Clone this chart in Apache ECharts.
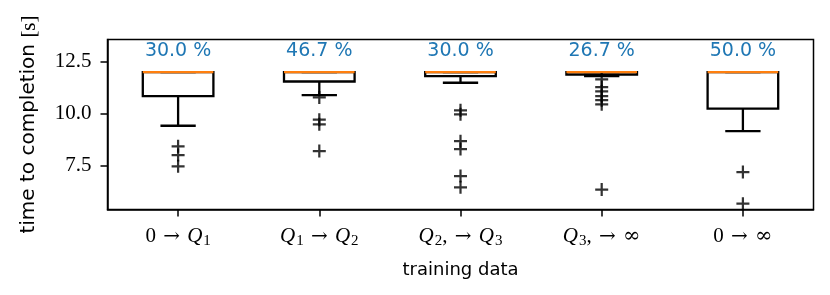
<!DOCTYPE html>
<html>
<head>
<meta charset="utf-8">
<script src="https://cdn.jsdelivr.net/npm/echarts@6/dist/echarts.min.js"></script>
<style>
html, body { margin: 0; padding: 0; background: #fff; }
#chart { width: 830px; height: 295px; }
</style>
</head>
<body>
<div id="chart"></div>
<script>
// ---- data ----
const categories = ['0 → Q₁', 'Q₁ → Q₂', 'Q₂, → Q₃', 'Q₃, → ∞', '0 → ∞'];
const whiskerLow  = [9.42, 10.89, 11.49, 11.81, 9.16];
const q1          = [10.85, 11.55, 11.81, 11.88, 10.24];
const median      = [12.0, 12.0, 12.0, 12.0, 12.0];
const q3          = [12.0, 12.0, 12.0, 12.0, 12.0];
const whiskerHigh = [12.0, 12.0, 12.0, 12.0, 12.0];
const outliers = [
  [8.43, 8.01, 7.47],
  [10.78, 9.71, 9.49, 8.20],
  [10.16, 9.97, 8.68, 8.30, 7.00, 6.46],
  [11.65, 11.28, 11.07, 10.85, 10.65, 10.45, 6.35],
  [7.19, 5.67]
];
const percentLabels = ['30.0 %', '46.7 %', '30.0 %', '26.7 %', '50.0 %'];
const percentLabelY = 13.0;
const yTicks = [7.5, 10.0, 12.5];
const yMin = 5.39, yMax = 13.57;

// ---- build series data ----
const boxData = categories.map((c, i) => [i, whiskerLow[i], q1[i], median[i], q3[i], whiskerHigh[i]]);
const outlierData = [];
outliers.forEach((arr, i) => arr.forEach(v => outlierData.push([i, v])));
const labelData = percentLabels.map((t, i) => [i, percentLabelY]);

const SUB = {'₀':'0','₁':'1','₂':'2','₃':'3','₄':'4'};
function richLabel(s) {
  let out = '', buf = '';
  const flush = () => { if (buf) { out += '{n|' + buf + '}'; buf = ''; } };
  for (const ch of s) {
    if (ch === 'Q') { flush(); out += '{q|Q}'; }
    else if (SUB[ch]) { flush(); out += '{s|' + SUB[ch] + '}'; }
    else if (ch === '→') { flush(); out += '{a|' + ch + '}'; }
    else if (ch === '∞') { flush(); out += '{m|' + ch + '}'; }
    else buf += ch;
  }
  flush();
  return out;
}

const chart = echarts.init(document.getElementById('chart'), null, { renderer: 'canvas' });
const serif = 'Liberation Serif';
const sans = 'DejaVu Sans';

const option = {
  backgroundColor: '#fff',
  animation: false,
  grid: {
    left: 107.5, right: 16.5, top: 39.5, bottom: 85.5,
    show: true, borderColor: '#000', borderWidth: 1.5, backgroundColor: 'transparent'
  },
  xAxis: {
    type: 'category',
    data: categories,
    boundaryGap: true,
    axisLine: { show: true, lineStyle: { color: '#000', width: 1.5 } },
    axisTick: { show: true, alignWithLabel: true, length: 7, lineStyle: { color: '#000', width: 1.5 } },
    splitLine: { show: false },
    axisLabel: {
      interval: 0,
      margin: 15,
      formatter: v => richLabel(v),
      rich: {
        n: { fontFamily: serif, fontSize: 21, color: '#000', lineHeight: 24 },
        a: { fontFamily: 'DejaVu Serif', fontSize: 20, color: '#000', lineHeight: 24, padding: [0, 2, 0, 2] },
        m: { fontFamily: 'DejaVu Serif', fontSize: 21, color: '#000', lineHeight: 24 },
        q: { fontFamily: serif, fontSize: 21, fontStyle: 'italic', color: '#000', lineHeight: 24 },
        s: { fontFamily: serif, fontSize: 15, color: '#000', lineHeight: 24, padding: [9, 0, 0, 1] }
      }
    },
    name: 'training data',
    nameLocation: 'middle',
    nameGap: 52,
    nameTextStyle: { fontFamily: sans, fontSize: 18, color: '#000' }
  },
  yAxis: {
    type: 'value',
    min: yMin, max: yMax,
    axisLine: { show: true, lineStyle: { color: '#000', width: 1.5 } },
    axisTick: { show: true, length: 7, customValues: yTicks, lineStyle: { color: '#000', width: 1.5 } },
    splitLine: { show: false },
    axisLabel: {
      customValues: yTicks,
      margin: 16,
      formatter: v => Number(v).toFixed(1),
      fontFamily: serif, fontSize: 21, color: '#000'
    },
    name: '{a|time to completion }{b|[s]}',
    nameLocation: 'middle',
    nameGap: 68,
    nameRotate: 90,
    nameTextStyle: {
      rich: {
        a: { fontFamily: sans, fontSize: 20, color: '#000' },
        b: { fontFamily: serif, fontSize: 21, color: '#000' }
      }
    }
  },
  series: [
    {
      type: 'custom',
      data: boxData,
      encode: { x: 0, y: [1, 2, 3, 4, 5] },
      clip: false,
      renderItem: function (params, api) {
        const i = api.value(0);
        const band = api.size([1, 0])[0];
        const bw = band * 0.5;
        const cw = bw * 0.5;
        const pLow = api.coord([i, api.value(1)]);
        const pQ1 = api.coord([i, api.value(2)]);
        const pMed = api.coord([i, api.value(3)]);
        const pQ3 = api.coord([i, api.value(4)]);
        const pHigh = api.coord([i, api.value(5)]);
        const x = pQ1[0];
        const blk = { stroke: '#000', lineWidth: 2.3, fill: 'none' };
        return {
          type: 'group',
          children: [
            { type: 'rect', shape: { x: x - bw / 2, y: pQ3[1], width: bw, height: pQ1[1] - pQ3[1] }, style: blk },
            { type: 'line', shape: { x1: x, y1: pQ1[1], x2: x, y2: pLow[1] }, style: blk },
            { type: 'line', shape: { x1: x - cw / 2, y1: pLow[1], x2: x + cw / 2, y2: pLow[1] }, style: blk },
            { type: 'line', shape: { x1: x, y1: pQ3[1], x2: x, y2: pHigh[1] }, style: blk },
            { type: 'line', shape: { x1: x - cw / 2, y1: pHigh[1], x2: x + cw / 2, y2: pHigh[1] }, style: blk },
            { type: 'line', shape: { x1: x - bw / 2, y1: pMed[1], x2: x + bw / 2, y2: pMed[1] }, style: { stroke: '#ff7f0e', lineWidth: 2.4 } }
          ]
        };
      },
      z: 3
    },
    {
      type: 'scatter',
      data: outlierData,
      symbol: 'path://M5.8,0H8.2V14H5.8Z M0,5.8H14V8.2H0Z',
      symbolSize: 13,
      itemStyle: { color: '#000' },
      z: 4
    },
    {
      type: 'custom',
      data: labelData,
      encode: { x: 0, y: 1 },
      clip: false,
      renderItem: function (params, api) {
        const i = api.value(0);
        const p = api.coord([i, api.value(1)]);
        return {
          type: 'text',
          style: {
            text: percentLabels[params.dataIndex],
            x: p[0], y: p[1],
            align: 'center', verticalAlign: 'middle',
            fill: '#1f77b4',
            font: '19px "DejaVu Sans"'
          }
        };
      },
      z: 5
    }
  ]
};
chart.setOption(option);
</script>
</body>
</html>
